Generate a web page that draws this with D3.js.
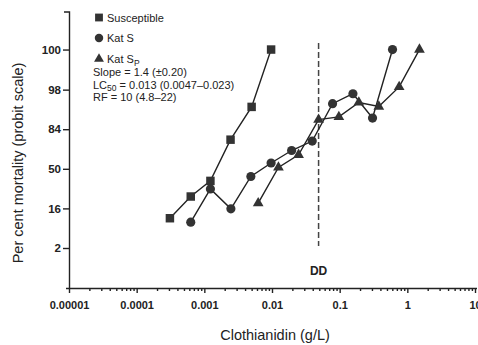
<!DOCTYPE html>
<html lang="en">
  <head>
    <meta charset="utf-8">
    <title>Clothianidin probit</title>
    <script src="https://d3js.org/d3.v7.min.js"></script>
    <style type="text/css">
      body { margin: 0; background: #fff; }
      svg { font-family: "Liberation Sans", Arial, sans-serif; }
      .axis path, .axis line { stroke: #222; stroke-width: 1.4px; }
      .axis text { font-size: 11px; font-weight: bold; fill: #222; }
      .serie { fill: none; stroke: #222; stroke-width: 1.4px; }
      .legend { font-size: 11px; fill: #222; }
    </style>
  </head>
  <body>
    <script>
      var w = 478;
      var h = 345;

      // concentration (g/L) and per cent mortality
      var susConc = [0.00031, 0.00063, 0.00123, 0.00244, 0.005, 0.0097];
      var susMort = [10.6, 24.2, 38, 76.9, 94.1, 100];

      var katSConc = [0.00063, 0.00123, 0.00247, 0.00487, 0.0097, 0.0195, 0.0393, 0.0785, 0.157, 0.306, 0.604];
      var katSMort = [8.9, 30.6, 15.6, 42.3, 55.8, 67.8, 75.8, 95.0, 97.1, 90.0, 100];

      var katSpConc = [0.00625, 0.01245, 0.0247, 0.0488, 0.0973, 0.192, 0.379, 0.757, 1.51];
      var katSpMort = [19.3, 51.4, 63.8, 89.3, 90.5, 95.3, 94.2, 98.07, 100];

      var ddConc = 0.0488;

      var xTicks = [0.00001, 0.0001, 0.001, 0.01, 0.1, 1, 10];
      var xTickLabels = ["0.00001", "0.0001", "0.001", "0.01", "0.1", "1", "10"];
      var yTicks = [2.275, 15.87, 50, 84.13, 97.72, 99.87];

      // inverse normal cdf (Acklam)
      function probit(pc) {
        var p = Math.min(Math.max(pc, 0.01), 99.87) / 100;
        var a = [-39.69683028665376, 220.9460984245205, -275.9285104469687, 138.3577518672690, -30.66479806614716, 2.506628277459239];
        var b = [-54.47609879822406, 161.5858368580409, -155.6989798598866, 66.80131188771972, -13.28068155288572];
        var c = [-0.007784894002430293, -0.3223964580411365, -2.400758277161838, -2.549732539343734, 4.374664141464968, 2.938163982698783];
        var d = [0.007784695709041462, 0.3224671290700398, 2.445134137142996, 3.754408661907416];
        var q, r;
        if (p < 0.02425) {
          q = Math.sqrt(-2 * Math.log(p));
          return (((((c[0]*q+c[1])*q+c[2])*q+c[3])*q+c[4])*q+c[5]) / ((((d[0]*q+d[1])*q+d[2])*q+d[3])*q+1);
        }
        if (p > 1 - 0.02425) {
          q = Math.sqrt(-2 * Math.log(1 - p));
          return -(((((c[0]*q+c[1])*q+c[2])*q+c[3])*q+c[4])*q+c[5]) / ((((d[0]*q+d[1])*q+d[2])*q+d[3])*q+1);
        }
        q = p - 0.5;
        r = q * q;
        return (((((a[0]*r+a[1])*r+a[2])*r+a[3])*r+a[4])*r+a[5])*q / (((((b[0]*r+b[1])*r+b[2])*r+b[3])*r+b[4])*r+1);
      }

      var svg = d3.select("body").append("svg")
          .attr("width", w).attr("height", h);

      var xScale = d3.scaleLog()
        .domain([0.00001, 10])
        .range([69, 475]);

      var zScale = d3.scaleLinear()
        .domain([-2, 3])
        .range([248, 50]);

      var yBottom = 288, yTop = 12;
      function yPos(pc) { return zScale(probit(pc)); }

      // x axis: minor ticks then majors
      var minor = [];
      for (var e = -5; e < 1; e++) {
        for (var k = 2; k < 10; k++) minor.push(k * Math.pow(10, e));
      }
      svg.append("g").attr("class", "axis")
        .attr("transform", "translate(0," + yBottom + ")")
        .call(d3.axisBottom(xScale).tickValues(minor).tickSize(3).tickSizeOuter(0).tickFormat(""))
        .select(".domain").attr("d", "M66,0.5H477");

      svg.append("g").attr("class", "axis")
        .attr("transform", "translate(0," + yBottom + ")")
        .call(d3.axisBottom(xScale).tickValues(xTicks).tickSize(5).tickPadding(8)
          .tickFormat((d, i) => xTickLabels[i]))
        .call(g => g.select(".domain").remove());

      // y axis
      var yAxis = svg.append("g").attr("class", "axis")
        .attr("transform", "translate(69,0)")
        .call(d3.axisLeft(zScale).tickValues(yTicks.map(probit)).tickSize(6).tickPadding(2)
          .tickFormat((d, i) => d3.format(".0f")(yTicks[i])));
      yAxis.select(".domain").attr("d", "M-5," + yTop + "H0.5V" + yBottom);
      yAxis.selectAll("text").style("font-size", "11.5px");

      // dose line
      svg.append("line")
        .attr("x1", xScale(ddConc)).attr("x2", xScale(ddConc))
        .attr("y1", 43).attr("y2", 246)
        .attr("stroke", "#444").attr("stroke-width", 1.5)
        .attr("stroke-dasharray", "6,3");
      svg.append("text")
        .attr("x", xScale(ddConc)).attr("y", 275)
        .attr("text-anchor", "middle")
        .style("font-size", "12px").style("font-weight", "bold").style("fill", "#222")
        .text("DD");

      var line = d3.line()
        .x(d => xScale(d[0]))
        .y(d => yPos(d[1]));

      var series = [
        { conc: susConc, mort: susMort, sym: d3.symbolSquare, size: 72 },
        { conc: katSConc, mort: katSMort, sym: d3.symbolCircle, size: 66 },
        { conc: katSpConc, mort: katSpMort, sym: d3.symbolTriangle, size: 50 }
      ];

      series.forEach(function (s) {
        var pts = d3.zip(s.conc, s.mort);
        svg.append("path").datum(pts).attr("class", "serie").attr("d", line);
        svg.selectAll(null).data(pts).enter().append("path")
          .attr("d", d3.symbol().type(s.sym).size(s.size))
          .attr("transform", d => "translate(" + xScale(d[0]) + "," + yPos(d[1]) + ")")
          .attr("fill", "#333");
      });

      // legend
      var legY = [17.5, 38, 59];
      series.forEach(function (s, i) {
        svg.append("path")
          .attr("d", d3.symbol().type(s.sym).size(s.size * 0.85))
          .attr("transform", "translate(99," + legY[i] + ")")
          .attr("fill", "#333");
      });
      svg.append("text").attr("class", "legend").attr("x", 107).attr("y", 21.5).text("Susceptible");
      svg.append("text").attr("class", "legend").attr("x", 107).attr("y", 42).text("Kat S");
      var t3 = svg.append("text").attr("class", "legend").attr("x", 107).attr("y", 63);
      t3.append("tspan").text("Kat S");
      t3.append("tspan").attr("dy", 2.5).style("font-size", "8.5px").text("P");

      svg.append("text").attr("class", "legend").attr("x", 93).attr("y", 76).text("Slope = 1.4 (\u00b10.20)");
      var t5 = svg.append("text").attr("class", "legend").attr("x", 93).attr("y", 88.5);
      t5.append("tspan").text("LC");
      t5.append("tspan").attr("dy", 2.5).style("font-size", "8.5px").text("50");
      t5.append("tspan").attr("dy", -2.5).text(" = 0.013 (0.0047\u20130.023)");
      svg.append("text").attr("class", "legend").attr("x", 93).attr("y", 101).text("RF = 10 (4.8\u201322)");

      // axis titles
      svg.append("text")
        .attr("transform", "translate(23,163) rotate(-90)")
        .attr("text-anchor", "middle")
        .style("font-size", "14.5px").style("fill", "#222")
        .text("Per cent mortality (probit scale)");
      svg.append("text")
        .attr("x", 275).attr("y", 340)
        .attr("text-anchor", "middle")
        .style("font-size", "14.5px").style("fill", "#222")
        .text("Clothianidin (g/L)");
    </script>
  </body>
</html>
